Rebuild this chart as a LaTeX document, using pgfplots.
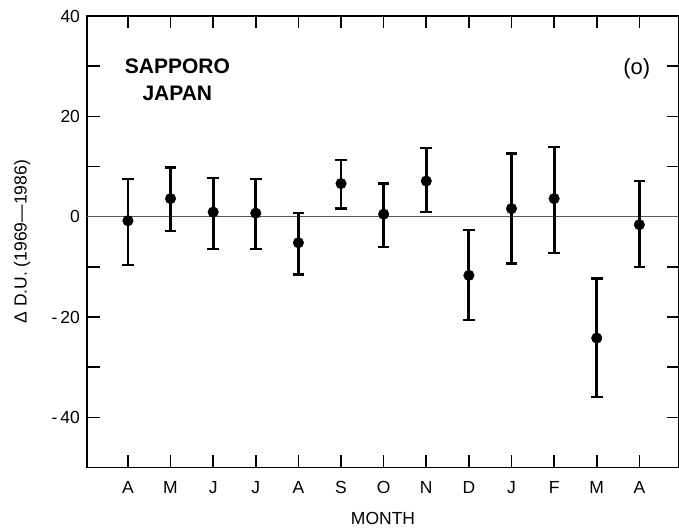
\documentclass[border=0pt]{standalone}
\usepackage{fontspec}
\setmainfont{Liberation Sans}
\usepackage{pgfplots}
\pgfplotsset{compat=1.18}
\begin{document}
\begin{tikzpicture}
\begin{axis}[
  scale only axis, width=592pt, height=451.5pt,
  xmin=-0.96, xmax=12.93, ymin=-50, ymax=40,
  axis line style={line width=1.6pt},
  xtick={0,...,12}, xticklabels={A,M,J,J,A,S,O,N,D,J,F,M,A},
  ytick={-40,-20,0,20,40}, yticklabels={-\hspace{3pt}40,-\hspace{3pt}20,0,20,40},
  minor ytick={-30,-10,10,30},
  tick pos=both, ticklabel pos=left,
  tick align=inside,
  major tick length=12.5pt, minor tick length=12.5pt,
  tick style={line width=1.6pt, black},
  font=\fontsize{17.5}{20}\selectfont,
  xticklabel style={anchor=base, yshift=-26pt},
  yticklabel style={anchor=east, xshift=-3.5pt},
  xlabel={MONTH}, ylabel={Δ D.U. (1969—1986)},
  xlabel style={at={(axis description cs:0.5,-0.112)}, anchor=center},
  ylabel style={at={(axis description cs:-0.1098,0.5)}, anchor=center},
  clip=false,
]
\addplot[gray!70!black, line width=0.8pt] coordinates {(-0.96,0) (12.93,0)};
\addplot[only marks, mark=*, mark size=5.3pt, black,
  error bars/.cd, y dir=both, y explicit,
  error bar style={line width=2.8pt, black},
  error mark options={rotate=90, mark size=5.8pt, line width=2.4pt, black}]
 coordinates {
 (0,-0.8) += (0,8.3) -= (0,8.8)
 (1,3.6) += (0,6.2) -= (0,6.5)
 (2,0.9) += (0,6.8) -= (0,7.3)
 (3,0.7) += (0,6.8) -= (0,7.2)
 (4,-5.2) += (0,5.9) -= (0,6.3)
 (5,6.6) += (0,4.7) -= (0,5.0)
 (6,0.5) += (0,6.1) -= (0,6.6)
 (7,7.1) += (0,6.6) -= (0,6.2)
 (8,-11.7) += (0,9.1) -= (0,8.9)
 (9,1.6) += (0,11.0) -= (0,10.9)
 (10,3.6) += (0,10.3) -= (0,10.8)
 (11,-24.2) += (0,11.9) -= (0,11.8)
 (12,-1.6) += (0,8.7) -= (0,8.4)
 };
\node[font=\fontsize{21}{26.5}\selectfont\bfseries, align=center] at (axis cs:1.16,27.3) {SAPPORO\\JAPAN};
\node[font=\fontsize{22}{26}\selectfont] at (axis cs:11.94,29.5) {(o)};
\end{axis}
\pgfresetboundingbox
\path[use as bounding box] ([xshift=-87pt,yshift=-61.5pt]current axis.south west) rectangle ([yshift=16pt]current axis.north east);
\end{tikzpicture}
\end{document}
